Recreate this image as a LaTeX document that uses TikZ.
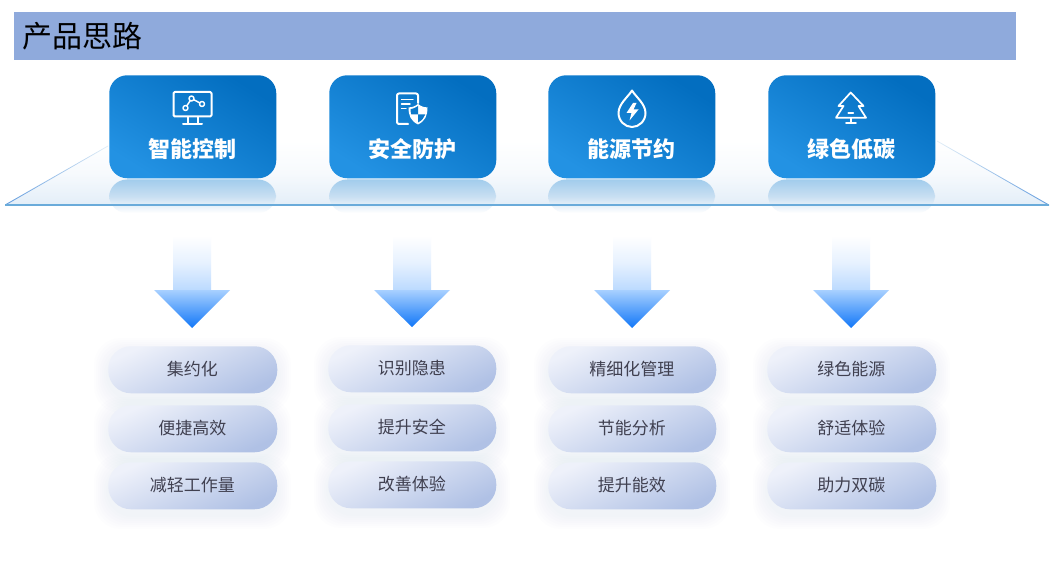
\documentclass[tikz,border=0pt]{standalone}
\usepackage{fontspec}
\setmainfont{Noto Sans CJK SC}
\usetikzlibrary{calc}
\definecolor{titlebar}{HTML}{8FAADC}
\definecolor{boxa}{HTML}{2392E3}
\definecolor{boxb}{HTML}{036EC0}
\definecolor{pilla}{HTML}{EEF1FA}
\definecolor{pillb}{HTML}{B0C1E5}
\definecolor{pilltext}{HTML}{404050}
\definecolor{lineblue}{HTML}{6AABDA}
\definecolor{shadowc}{HTML}{8FA3D0}
\definecolor{refla}{HTML}{A2CCEC}
\definecolor{reflb}{HTML}{C8DFF2}
\definecolor{arrowa}{HTML}{BBDAFF}
\definecolor{arrowm}{HTML}{E6F1FF}
\definecolor{arrowb}{HTML}{A8D0FF}
\definecolor{arrowc}{HTML}{1177F8}
\definecolor{plana}{HTML}{E3EEF8}
\definecolor{planm}{HTML}{F7FAFD}
\tikzset{
  x=0.75pt,y=-0.75pt,
  titlenode/.style={anchor=west,inner sep=0pt,font=\fontsize{22.5pt}{24pt}\selectfont,text=black},
  headtext/.style={inner sep=0pt,font=\fontsize{16.5pt}{18pt}\selectfont\bfseries,text=white},
  pilltxt/.style={inner sep=0pt,font=\fontsize{12.75pt}{14pt}\selectfont,text=pilltext},
  boxshade/.style={rounded corners=13.5pt,shading=axis,left color=boxa,right color=boxb,shading angle=148},
  pillshade/.style={rounded corners=17pt,shading=axis,left color=pilla,right color=pillb,shading angle=25},
  icon/.style={draw=white,line width=1.5pt,line join=round,line cap=round},
  iconthin/.style={draw=white,line width=1.1pt,line join=round,line cap=round},
}
\newcommand{\HeadBox}[4]{% left x, name, text, right x
  \shade[rounded corners=13.5pt,top color=refla,bottom color=white,middle color=reflb] (#1,213) -- (#1,179.5) -- (#4,179.5) -- (#4,213) -- cycle;
  \node[minimum width=125.25pt,minimum height=77.25pt,inner sep=0pt,anchor=north west,boxshade] (#2) at (#1,75) {};
  \node[headtext] (#2t) at ($(#2.center)+(0,-17pt)$) {#3};
}
\newcommand{\DownArrow}[3]{% center x, tip y, name
  \shade[top color=white,bottom color=arrowa,middle color=arrowm] (#1-19,236) rectangle (#1+19,290.2);
  \shade[top color=arrowb,bottom color=arrowc] (#1-38,290) -- (#1+38,290) -- (#1,#2) -- cycle;
  \coordinate (#3) at (#1,#2);
}
\newcommand{\Pill}[5]{% x0 x1 ytop name text
  \foreach \k in {14,12,10,8,6,4,2}{
    \fill[shadowc,opacity=0.012,rounded corners=20pt] (#1-\k,#3+6-\k) rectangle (#2+\k,#3+47+6+\k);
  }
  \node[anchor=north west,inner sep=0pt,minimum width={(#2-#1)*0.75pt},minimum height=35.25pt,pillshade] (#4) at (#1,#3) {};
  \node[pilltxt] at ($(#4.center)+(-0.3pt,0.3pt)$) {#5};
}
\begin{document}
\begin{tikzpicture}
\useasboundingbox (0,0) rectangle (1060,574);
\fill[white] (0,0) rectangle (1060,574);
% title
\fill[titlebar] (14,12) rectangle (1016,60);
\node[titlenode] (title) at (22,36) {产品思路};
% plane
\shade[top color=white,bottom color=plana,middle color=planm] (5,205) -- (117,141) -- (937,141) -- (1049,205) -- cycle;
\shade[left color=lineblue!90!blue,right color=lineblue!20!white] (5,204.6) -- (108,145.6) -- (108,146.4) -- (5,205.6) -- cycle;
\shade[left color=lineblue!20!white,right color=lineblue!90!blue] (937,140.6) -- (1049,204.6) -- (1049,205.6) -- (937,141.4) -- cycle;
% arrows
\DownArrow{192}{328}{aa}
\DownArrow{412}{327}{ab}
\DownArrow{632}{328}{ac}
\DownArrow{851}{328}{ad}
% pills
\Pill{108}{277}{346}{pa1}{集约化}
\Pill{108}{277}{405}{pa2}{便捷高效}
\Pill{108}{277}{462}{pa3}{减轻工作量}
\Pill{328}{496}{345}{pb1}{识别隐患}
\Pill{328}{496}{404}{pb2}{提升安全}
\Pill{328}{496}{461}{pb3}{改善体验}
\Pill{548}{716}{346}{pc1}{精细化管理}
\Pill{548}{716}{405}{pc2}{节能分析}
\Pill{548}{716}{462}{pc3}{提升能效}
\Pill{767}{936}{346}{pd1}{绿色能源}
\Pill{767}{936}{405}{pd2}{舒适体验}
\Pill{767}{936}{462}{pd3}{助力双碳}
% head boxes
\HeadBox{109}{ba}{智能控制}{276}
\HeadBox{329}{bb}{安全防护}{496}
\HeadBox{548}{bc}{能源节约}{715}
\HeadBox{768}{bd}{绿色低碳}{935}
\draw[draw=lineblue,line width=1pt] (5,205) -- (1049,205);
% icon 1: monitor
\draw[icon,rounded corners=1pt] (173.5,92) rectangle (211.5,116.5);
\draw[icon] (187.5,117) -- (187.5,123.5) (197.5,117) -- (197.5,123.5) (183,123.8) -- (202,123.8);
\draw[iconthin] (185.5,108) circle (2.5) (191.5,98.5) circle (2.5) (202,104) circle (2.5);
\draw[iconthin] (186.8,105.8) -- (190.2,100.7) (193.8,99.7) -- (199.8,102.9);
% icon 2: document and shield
\draw[icon,rounded corners=1.5pt] (408,124) -- (397,124) -- (397,93.5) -- (418,93.5) -- (418,103);
\draw[iconthin] (401.5,99.5) -- (413,99.5) (401.5,104) -- (410,104) (401.5,108.5) -- (406,108.5);
\fill[white] (418,104) .. controls (414,107) and (411,107.5) .. (408.5,107.5) .. controls (408.5,116) and (411,121) .. (418,124.5) .. controls (425,121) and (427.5,116) .. (427.5,107.5) .. controls (425,107.5) and (422,107) .. (418,104) -- cycle;
\fill[boxb!70!boxa] (418,106) .. controls (415,108) and (412.5,109) .. (410.5,109.2) .. controls (410.6,111) and (410.8,113) .. (411.3,114.5) -- (418,114.5) -- cycle;
\fill[boxb!70!boxa] (418,114.5) -- (425.2,114.5) .. controls (424,118) and (422,120.5) .. (418,122.5) -- cycle;
% icon 3: drop
\draw[icon] (632,90.5) .. controls (628,97) and (618.5,104) .. (618.5,113) .. controls (618.5,121) and (625,127) .. (632,127) .. controls (639,127) and (645.5,121) .. (645.5,113) .. controls (645.5,104) and (636,97) .. (632,90.5) -- cycle;
\fill[white] (633,103) -- (626.5,113) -- (631.5,113) -- (629.5,120.5) -- (638.5,109.5) -- (633.5,109.5) -- (636.5,103) -- cycle;
% icon 4: tree
\draw[iconthin,line width=1.3pt] (850.7,92.5) -- (838.5,106) -- (843.5,106) -- (836,117.7) -- (866,117.7) -- (858.5,106) -- (863.5,106) -- cycle;
\draw[iconthin,line width=1.3pt] (850.7,118) -- (850.7,123) (846,123.3) -- (856,123.3) (848.3,112.7) -- (853.3,112.7);
\end{tikzpicture}
\end{document}
